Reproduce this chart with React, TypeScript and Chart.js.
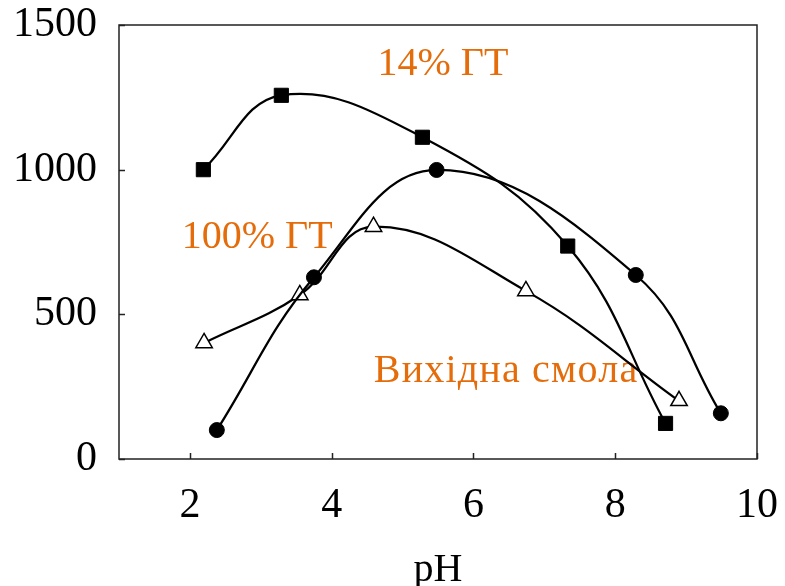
import { useEffect, useRef } from "react";
import { Chart, registerables } from "chart.js";

Chart.register(...registerables);

// Sorption capacity vs pH for three resin samples
const PH_SQUARES = [2.19, 3.29, 5.28, 7.33, 8.71];
const VAL_SQUARES = [1000, 1257, 1112, 736, 123];

const PH_CIRCLES = [2.38, 3.75, 5.48, 8.29, 9.49];
const VAL_CIRCLES = [100, 628, 999, 636, 158];

const PH_TRIANGLES = [2.2, 3.55, 4.59, 6.74, 8.9];
const VAL_TRIANGLES = [401, 567, 803, 581, 201];

const X_TICKS = [2, 4, 6, 8, 10];
const Y_TICKS = [0, 500, 1000, 1500];

// Series captions, anchored in data coordinates (pH, value)
const CAPTIONS = ["14% ГТ", "100% ГТ", "Вихідна смола"];
const CAPTION_PH = [5.57, 2.95, 6.46];
const CAPTION_VAL = [1362, 767, 301];
const CAPTION_SPACING = ["0px", "0px", "1.2px"];

const FONT = "'Liberation Serif', 'Times New Roman', serif";
const ORANGE = "#E46C0A";

const toPoints = (xs: number[], ys: number[]) => xs.map((x, i) => ({ x, y: ys[i] }));

const framePlugin = {
  id: "frameAndCaptions",
  beforeDatasetsDraw(chart: any) {
    const { ctx, chartArea } = chart;
    const xs = chart.scales.x;
    const ys = chart.scales.y;
    ctx.save();
    // captions sit underneath the curves
    ctx.fillStyle = ORANGE;
    ctx.font = `40px ${FONT}`;
    ctx.textAlign = "center";
    ctx.textBaseline = "middle";
    CAPTIONS.forEach((t, i) => {
      (ctx as any).letterSpacing = CAPTION_SPACING[i];
      ctx.fillText(t, xs.getPixelForValue(CAPTION_PH[i]), ys.getPixelForValue(CAPTION_VAL[i]));
    });
    (ctx as any).letterSpacing = "0px";
    // plot frame
    ctx.strokeStyle = "#222";
    ctx.lineWidth = 1.5;
    ctx.strokeRect(chartArea.left, chartArea.top, chartArea.right - chartArea.left, chartArea.bottom - chartArea.top);
    // inward tick marks
    ctx.beginPath();
    X_TICKS.forEach((v) => {
      const px = Math.round(xs.getPixelForValue(v)) + 0.5;
      ctx.moveTo(px, chartArea.bottom);
      ctx.lineTo(px, chartArea.bottom - 6);
    });
    Y_TICKS.forEach((v) => {
      const py = Math.round(ys.getPixelForValue(v)) + 0.5;
      ctx.moveTo(chartArea.left, py);
      ctx.lineTo(chartArea.left + 6, py);
    });
    ctx.stroke();
    ctx.restore();
  },
};

export default function App() {
  const canvasRef = useRef<HTMLCanvasElement | null>(null);

  useEffect(() => {
    const canvas = canvasRef.current;
    if (!canvas) return;
    const common = {
      borderColor: "#000",
      borderWidth: 2.25,
      tension: 0.4,
      showLine: true,
      pointBorderColor: "#000",
      clip: false as const,
    };
    const chart = new Chart(canvas, {
      type: "scatter",
      data: {
        datasets: [
          {
            ...common,
            label: CAPTIONS[0],
            data: toPoints(PH_SQUARES, VAL_SQUARES),
            pointStyle: "rect",
            pointRadius: 10,
            pointBackgroundColor: "#000",
            pointBorderWidth: 1,
          },
          {
            ...common,
            label: CAPTIONS[1],
            data: toPoints(PH_CIRCLES, VAL_CIRCLES),
            pointStyle: "circle",
            pointRadius: 7.5,
            pointBackgroundColor: "#000",
            pointBorderWidth: 1,
          },
          {
            ...common,
            label: CAPTIONS[2],
            data: toPoints(PH_TRIANGLES, VAL_TRIANGLES),
            pointStyle: "triangle",
            pointRadius: 9.5,
            pointBackgroundColor: "#fff",
            pointBorderWidth: 1.5,
          },
        ],
      },
      options: {
        animation: false,
        responsive: false,
        devicePixelRatio: 1,
        layout: { padding: { top: 25, right: 28, left: 0, bottom: 0 } },
        plugins: {
          legend: { display: false },
          tooltip: { enabled: false },
        },
        scales: {
          x: {
            type: "linear",
            min: 1,
            max: 10,
            afterBuildTicks: (s: any) => {
              s.ticks = X_TICKS.map((value) => ({ value }));
            },
            afterFit: (s: any) => {
              s.height = 127;
              s.paddingLeft = 0;
              s.paddingRight = 0;
            },
            grid: { display: false, drawTicks: false },
            border: { display: false },
            ticks: {
              color: "#000",
              font: { family: FONT, size: 42 },
              padding: 22,
              maxRotation: 0,
              callback: (v: any) => String(v),
            },
            title: {
              display: true,
              text: "pH",
              color: "#000",
              font: { family: FONT, size: 40, lineHeight: 0.8 },
              padding: 0,
            },
          },
          y: {
            type: "linear",
            min: 0,
            max: 1500,
            afterBuildTicks: (s: any) => {
              s.ticks = Y_TICKS.map((value) => ({ value }));
            },
            afterFit: (s: any) => {
              s.width = 119;
              s.paddingTop = 0;
              s.paddingBottom = 0;
            },
            grid: { display: false, drawTicks: false },
            border: { display: false },
            ticks: {
              color: "#000",
              font: { family: FONT, size: 42 },
              padding: 22,
              callback: (v: any) => String(v),
            },
          },
        },
      },
      plugins: [framePlugin],
    });
    return () => chart.destroy();
  }, []);

  return (
    <div style={{ position: "fixed", left: 0, top: 0, width: 785, height: 586, background: "#fff" }}>
      <canvas ref={canvasRef} width={785} height={586} />
    </div>
  );
}
